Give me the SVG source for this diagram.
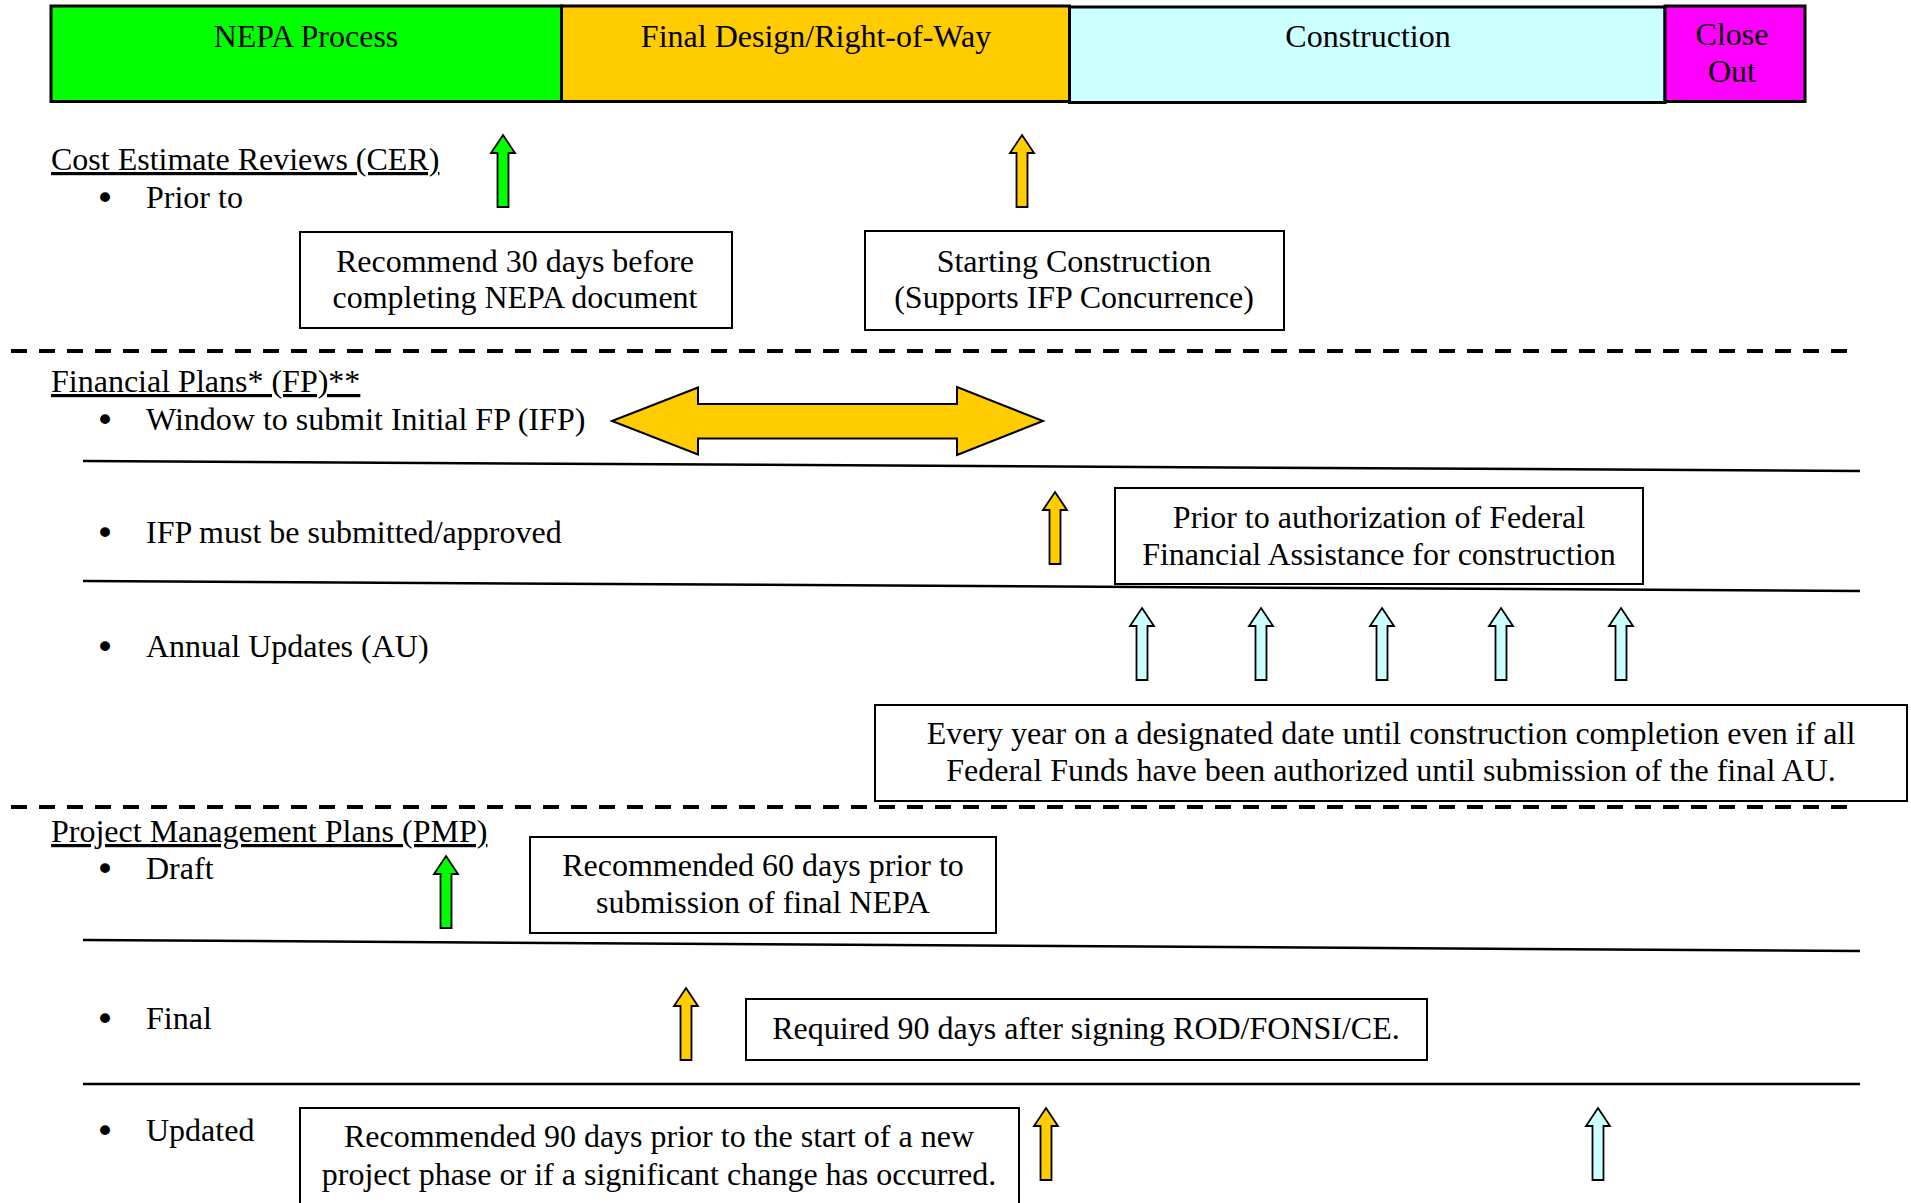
<svg xmlns="http://www.w3.org/2000/svg" width="1911" height="1203" viewBox="0 0 1911 1203">
<style>
text{font-family:"Liberation Serif","Times New Roman",serif;font-size:32px;fill:#000}
.c{text-anchor:middle}
.u{text-decoration:underline}
.b{text-anchor:middle;font-family:"DejaVu Sans",sans-serif;font-size:34px}
.box{fill:#fff;stroke:#000;stroke-width:2}
.hdr{stroke:#000;stroke-width:3}
.dash{stroke:#000;stroke-width:4;stroke-dasharray:16 12;fill:none}
.sep{stroke:#000;stroke-width:2.5;fill:none}
.ag{fill:#00ff00}
.ay{fill:#ffcc00}
.ac{fill:#ccffff}
</style>
<defs>
<path id="up" d="M0,0 L12,18 L5.5,18 L5.5,72 L-5.5,72 L-5.5,18 L-12,18 Z" stroke="#000" stroke-width="1.8" stroke-linejoin="miter"/>
</defs>
<rect width="1911" height="1203" fill="#fff"/>

<g id="phase-nepa">
<rect class="hdr" x="51" y="6" width="510.5" height="95.5" fill="#00ff00"/>
<text class="c" x="306" y="47">NEPA Process</text>
</g>
<g id="phase-final-design">
<rect class="hdr" x="561.5" y="6" width="508" height="95.5" fill="#ffcc00"/>
<text class="c" x="816" y="47">Final Design/Right-of-Way</text>
</g>
<g id="phase-construction">
<rect class="hdr" x="1069.5" y="7" width="595.5" height="95.5" fill="#ccffff"/>
<text class="c" x="1368" y="47">Construction</text>
</g>
<g id="phase-closeout">
<rect class="hdr" x="1665" y="6" width="140" height="95.5" fill="#ff00ff"/>
<text class="c" x="1732" y="45">Close</text>
<text class="c" x="1732" y="82">Out</text>
</g>

<g id="connectors">
<line class="dash" x1="11" y1="351" x2="1848" y2="351"/>
<line class="dash" x1="11" y1="807" x2="1848" y2="807"/>
<line class="sep" x1="83" y1="461" x2="1860" y2="471"/>
<line class="sep" x1="83" y1="581" x2="1860" y2="591"/>
<line class="sep" x1="83" y1="940" x2="1860" y2="951"/>
<line class="sep" x1="83" y1="1084" x2="1860" y2="1084"/>
</g>

<g id="cer-heading">
<text class="u" x="51" y="170">Cost Estimate Reviews (CER)</text>
<text class="b" x="105" y="210">•</text>
<text x="146" y="208">Prior to</text>
</g>
<g id="cer-arrow-green"><use href="#up" class="ag" x="503" y="135"/></g>
<g id="cer-box-nepa">
<rect class="box" x="300" y="232" width="432" height="96"/>
<text class="c" x="515" y="272">Recommend 30 days before</text>
<text class="c" x="515" y="308">completing NEPA document</text>
</g>
<g id="cer-arrow-yellow"><use href="#up" class="ay" x="1022" y="135"/></g>
<g id="cer-box-construction">
<rect class="box" x="865" y="231" width="419" height="99"/>
<text class="c" x="1074" y="272">Starting Construction</text>
<text class="c" x="1074" y="308">(Supports IFP Concurrence)</text>
</g>

<g id="fp-heading">
<text class="u" x="51" y="392">Financial Plans* (FP)**</text>
<text class="b" x="105" y="432">•</text>
<text x="146" y="430">Window to submit Initial FP (IFP)</text>
</g>
<g id="fp-window-arrow">
<path d="M612,421 L698,387.5 L698,404 L957,404 L957,387 L1043,421 L957,455 L957,438.5 L698,438.5 L698,454.5 Z" fill="#ffcc00" stroke="#000" stroke-width="2"/>
</g>
<g id="fp-ifp">
<text class="b" x="105" y="545">•</text>
<text x="146" y="543">IFP must be submitted/approved</text>
</g>
<g id="fp-ifp-arrow"><use href="#up" class="ay" x="1055" y="492"/></g>
<g id="fp-ifp-box">
<rect class="box" x="1115" y="488" width="528" height="96"/>
<text class="c" x="1379" y="528">Prior to authorization of Federal</text>
<text class="c" x="1379" y="565">Financial Assistance for construction</text>
</g>
<g id="fp-au">
<text class="b" x="105" y="659">•</text>
<text x="146" y="657">Annual Updates (AU)</text>
</g>
<g id="fp-au-arrows">
<use href="#up" class="ac" x="1142" y="608"/>
<use href="#up" class="ac" x="1261" y="608"/>
<use href="#up" class="ac" x="1382" y="608"/>
<use href="#up" class="ac" x="1501" y="608"/>
<use href="#up" class="ac" x="1621" y="608"/>
</g>
<g id="fp-au-box">
<rect class="box" x="875" y="705" width="1032" height="96"/>
<text class="c" x="1391" y="744">Every year on a designated date until construction completion even if all</text>
<text class="c" x="1391" y="781">Federal Funds have been authorized until submission of the final AU.</text>
</g>

<g id="pmp-heading">
<text class="u" x="51" y="842">Project Management Plans (PMP)</text>
<text class="b" x="105" y="881">•</text>
<text x="146" y="879">Draft</text>
</g>
<g id="pmp-draft-arrow"><use href="#up" class="ag" x="446" y="856"/></g>
<g id="pmp-draft-box">
<rect class="box" x="530" y="837" width="466" height="96"/>
<text class="c" x="763" y="876">Recommended 60 days prior to</text>
<text class="c" x="763" y="913">submission of final NEPA</text>
</g>
<g id="pmp-final">
<text class="b" x="105" y="1031">•</text>
<text x="146" y="1029">Final</text>
</g>
<g id="pmp-final-arrow"><use href="#up" class="ay" x="686" y="988"/></g>
<g id="pmp-final-box">
<rect class="box" x="746" y="999" width="681" height="61"/>
<text class="c" x="1086" y="1039">Required 90 days after signing ROD/FONSI/CE.</text>
</g>
<g id="pmp-updated">
<text class="b" x="105" y="1143">•</text>
<text x="146" y="1141">Updated</text>
</g>
<g id="pmp-updated-box">
<rect class="box" x="300" y="1108" width="719" height="110"/>
<text class="c" x="659" y="1147">Recommended 90 days prior to the start of a new</text>
<text class="c" x="659" y="1185">project phase or if a significant change has occurred.</text>
</g>
<g id="pmp-updated-arrow-yellow"><use href="#up" class="ay" x="1046" y="1108"/></g>
<g id="pmp-updated-arrow-cyan"><use href="#up" class="ac" x="1598" y="1108"/></g>
</svg>
